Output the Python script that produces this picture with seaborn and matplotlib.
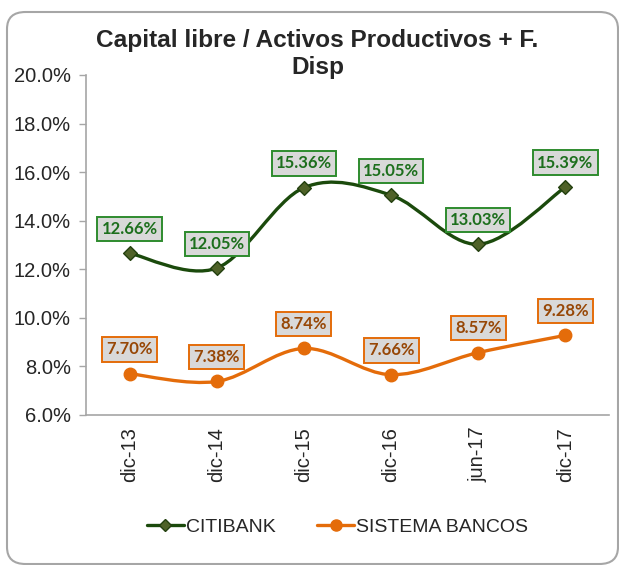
import numpy as np
import pandas as pd
import matplotlib
matplotlib.use("Agg")
import matplotlib.pyplot as plt
import seaborn as sns
from matplotlib.path import Path
from matplotlib.patches import PathPatch, FancyBboxPatch
from matplotlib.lines import Line2D
from matplotlib.ticker import FuncFormatter

# data
periods = ["dic-13", "dic-14", "dic-15", "dic-16", "jun-17", "dic-17"]
citibank = [12.66, 12.05, 15.36, 15.05, 13.03, 15.39]
sistema = [7.70, 7.38, 8.74, 7.66, 8.57, 9.28]

df = pd.DataFrame({"periodo": periods, "CITIBANK": citibank, "SISTEMA BANCOS": sistema})

sns.set_style("white")
plt.rcParams["font.family"] = ["Liberation Sans", "DejaVu Sans"]

fig = plt.figure(figsize=(6.19, 5.65), dpi=100)
ax = fig.add_axes([86 / 619, 150 / 565, 523 / 619, 340 / 565])

# rounded outer frame
frame = FancyBboxPatch((7 / 619, 1 / 565), 611 / 619, 552 / 565,
                       boxstyle="round,pad=0,rounding_size=0.03",
                       transform=fig.transFigure, fill=False,
                       ec="#a6a6a6", lw=1.5, clip_on=False)
fig.patches.append(frame)


def smooth_path(xs, ys):
    # Bezier smoothing like Excel's "smoothed line"
    pts = np.column_stack([xs, ys]).astype(float)
    n = len(pts)
    verts = [pts[0]]
    codes = [Path.MOVETO]
    for i in range(n - 1):
        p0 = pts[i - 1] if i > 0 else pts[i]
        p1 = pts[i]
        p2 = pts[i + 1]
        p3 = pts[i + 2] if i + 2 < n else pts[i + 1]
        c1 = p1 + (p2 - p0) / 6.0
        c2 = p2 - (p3 - p1) / 6.0
        verts += [c1, c2, p2]
        codes += [Path.CURVE4] * 3
    return Path(verts, codes)


series = [
    ("CITIBANK", "#1b4a0c", "#4f6228", "#23400f", "D", 7, "#2e8b2e", "#1d6f1d"),
    ("SISTEMA BANCOS", "#e46c0a", "#e46c0a", "#e46c0a", "o", 9, "#e46c0a", "#974706"),
]

xpos = np.arange(len(periods))
for name, lc, mfc, mec, mk, ms, box_ec, txt_c in series:
    vals = df[name].values
    ax.add_patch(PathPatch(smooth_path(xpos, vals), fill=False, ec=lc, lw=2.4, zorder=2))
    sns.scatterplot(data=df, x="periodo", y=name, marker=mk, s=ms ** 2,
                    color=mfc, edgecolor=mec, linewidth=1, ax=ax, zorder=3, legend=False)
    for x, v in zip(xpos, vals):
        ax.annotate(f"{v:.2f}%", (x, v), xytext=(0, 17.5), textcoords="offset points",
                    ha="center", va="center", fontsize=12, fontweight="bold",
                    family=["Lato", "DejaVu Sans"], color=txt_c,
                    bbox=dict(boxstyle="square,pad=0.25", fc="#d9d9d9", ec=box_ec, lw=1.4),
                    zorder=4)

ax.set_xlim(-0.5, len(periods) - 0.5)
ax.set_ylim(6, 20)
ax.set_yticks(np.arange(6, 20.1, 2))
ax.yaxis.set_major_formatter(FuncFormatter(lambda v, p: f"{v:.1f}%"))
ax.set_xlabel("")
ax.set_ylabel("")
ax.tick_params(axis="y", left=True, length=5, width=1, color="#a6a6a6", labelsize=14.5, pad=6)
ax.tick_params(axis="x", bottom=False, labelsize=14.5, pad=5)
plt.setp(ax.get_xticklabels(), rotation=90)
for s in ["top", "right"]:
    ax.spines[s].set_visible(False)
for s in ["left", "bottom"]:
    ax.spines[s].set_color("#a6a6a6")
    ax.spines[s].set_linewidth(1.2)

fig.text(0.513, 0.904, "Capital libre / Activos Productivos + F.\nDisp", ha="center", va="center",
         fontsize=17.6, fontweight="bold", linespacing=1.2)

handles = [
    Line2D([], [], color="#1b4a0c", lw=2.4, marker="D", ms=6, mfc="#4f6228", mec="#23400f"),
    Line2D([], [], color="#e46c0a", lw=2.4, marker="o", ms=8, mfc="#e46c0a", mec="#e46c0a"),
]
fig.legend(handles, ["CITIBANK", "SISTEMA BANCOS"], loc="center", bbox_to_anchor=(0.545, 0.067),
           ncol=2, frameon=False, fontsize=14, handlelength=1.9, handletextpad=0.1, columnspacing=2.15)

fig.savefig("out.png", dpi=100)
